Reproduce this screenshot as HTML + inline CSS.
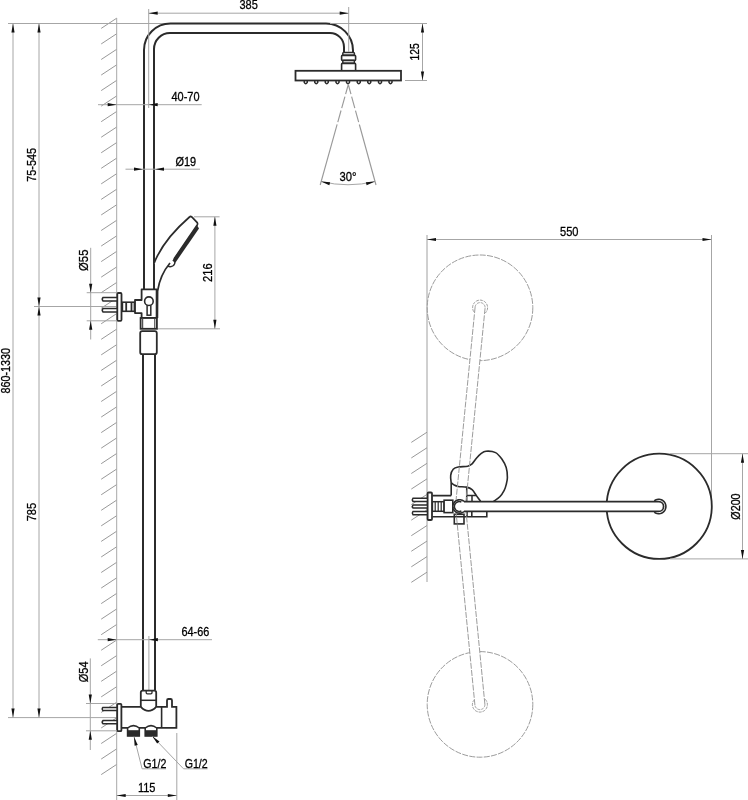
<!DOCTYPE html>
<html><head><meta charset="utf-8"><style>
html,body{margin:0;padding:0;background:#fff;}
svg{display:block;will-change:transform;}
text{font-family:"Liberation Sans",sans-serif;fill:#000;stroke:#000;stroke-width:0.3px;}
</style></head><body>
<svg width="748" height="800" viewBox="0 0 748 800">
<rect width="748" height="800" fill="#fff"/>
<line x1="101.2" y1="28.4" x2="116.7" y2="18.2" stroke="#999" stroke-width="1"/>
<line x1="101.2" y1="43.946" x2="116.7" y2="33.745999999999995" stroke="#999" stroke-width="1"/>
<line x1="101.2" y1="59.492000000000004" x2="116.7" y2="49.292" stroke="#999" stroke-width="1"/>
<line x1="101.2" y1="75.038" x2="116.7" y2="64.838" stroke="#999" stroke-width="1"/>
<line x1="101.2" y1="90.584" x2="116.7" y2="80.384" stroke="#999" stroke-width="1"/>
<line x1="101.2" y1="106.13" x2="116.7" y2="95.92999999999999" stroke="#999" stroke-width="1"/>
<line x1="101.2" y1="121.676" x2="116.7" y2="111.476" stroke="#999" stroke-width="1"/>
<line x1="101.2" y1="137.222" x2="116.7" y2="127.022" stroke="#999" stroke-width="1"/>
<line x1="101.2" y1="152.76799999999997" x2="116.7" y2="142.56799999999998" stroke="#999" stroke-width="1"/>
<line x1="101.2" y1="168.31399999999996" x2="116.7" y2="158.11399999999998" stroke="#999" stroke-width="1"/>
<line x1="101.2" y1="183.85999999999996" x2="116.7" y2="173.65999999999997" stroke="#999" stroke-width="1"/>
<line x1="101.2" y1="199.40599999999998" x2="116.7" y2="189.206" stroke="#999" stroke-width="1"/>
<line x1="101.2" y1="214.95199999999997" x2="116.7" y2="204.75199999999998" stroke="#999" stroke-width="1"/>
<line x1="101.2" y1="230.49799999999996" x2="116.7" y2="220.29799999999997" stroke="#999" stroke-width="1"/>
<line x1="101.2" y1="246.04399999999998" x2="116.7" y2="235.844" stroke="#999" stroke-width="1"/>
<line x1="101.2" y1="261.59" x2="116.7" y2="251.39" stroke="#999" stroke-width="1"/>
<line x1="101.2" y1="277.13599999999997" x2="116.7" y2="266.936" stroke="#999" stroke-width="1"/>
<line x1="101.2" y1="292.68199999999996" x2="116.7" y2="282.48199999999997" stroke="#999" stroke-width="1"/>
<line x1="101.2" y1="308.22799999999995" x2="116.7" y2="298.02799999999996" stroke="#999" stroke-width="1"/>
<line x1="101.2" y1="323.77399999999994" x2="116.7" y2="313.57399999999996" stroke="#999" stroke-width="1"/>
<line x1="101.2" y1="339.31999999999994" x2="116.7" y2="329.11999999999995" stroke="#999" stroke-width="1"/>
<line x1="101.2" y1="354.866" x2="116.7" y2="344.666" stroke="#999" stroke-width="1"/>
<line x1="101.2" y1="370.412" x2="116.7" y2="360.212" stroke="#999" stroke-width="1"/>
<line x1="101.2" y1="385.95799999999997" x2="116.7" y2="375.758" stroke="#999" stroke-width="1"/>
<line x1="101.2" y1="401.50399999999996" x2="116.7" y2="391.304" stroke="#999" stroke-width="1"/>
<line x1="101.2" y1="417.04999999999995" x2="116.7" y2="406.84999999999997" stroke="#999" stroke-width="1"/>
<line x1="101.2" y1="432.59599999999995" x2="116.7" y2="422.39599999999996" stroke="#999" stroke-width="1"/>
<line x1="101.2" y1="448.14199999999994" x2="116.7" y2="437.94199999999995" stroke="#999" stroke-width="1"/>
<line x1="101.2" y1="463.688" x2="116.7" y2="453.488" stroke="#999" stroke-width="1"/>
<line x1="101.2" y1="479.234" x2="116.7" y2="469.034" stroke="#999" stroke-width="1"/>
<line x1="101.2" y1="494.78" x2="116.7" y2="484.58" stroke="#999" stroke-width="1"/>
<line x1="101.2" y1="510.32599999999996" x2="116.7" y2="500.126" stroke="#999" stroke-width="1"/>
<line x1="101.2" y1="525.8720000000001" x2="116.7" y2="515.672" stroke="#999" stroke-width="1"/>
<line x1="101.2" y1="541.4180000000001" x2="116.7" y2="531.2180000000001" stroke="#999" stroke-width="1"/>
<line x1="101.2" y1="556.964" x2="116.7" y2="546.764" stroke="#999" stroke-width="1"/>
<line x1="101.2" y1="572.5100000000001" x2="116.7" y2="562.3100000000001" stroke="#999" stroke-width="1"/>
<line x1="101.2" y1="588.056" x2="116.7" y2="577.856" stroke="#999" stroke-width="1"/>
<line x1="101.2" y1="603.6020000000001" x2="116.7" y2="593.402" stroke="#999" stroke-width="1"/>
<line x1="101.2" y1="619.148" x2="116.7" y2="608.948" stroke="#999" stroke-width="1"/>
<line x1="101.2" y1="634.6940000000001" x2="116.7" y2="624.494" stroke="#999" stroke-width="1"/>
<line x1="101.2" y1="650.24" x2="116.7" y2="640.04" stroke="#999" stroke-width="1"/>
<line x1="101.2" y1="665.7860000000001" x2="116.7" y2="655.586" stroke="#999" stroke-width="1"/>
<line x1="101.2" y1="681.3320000000001" x2="116.7" y2="671.1320000000001" stroke="#999" stroke-width="1"/>
<line x1="101.2" y1="696.878" x2="116.7" y2="686.678" stroke="#999" stroke-width="1"/>
<line x1="101.2" y1="712.4240000000001" x2="116.7" y2="702.224" stroke="#999" stroke-width="1"/>
<line x1="101.2" y1="727.97" x2="116.7" y2="717.77" stroke="#999" stroke-width="1"/>
<line x1="101.2" y1="743.5160000000001" x2="116.7" y2="733.316" stroke="#999" stroke-width="1"/>
<line x1="101.2" y1="759.062" x2="116.7" y2="748.862" stroke="#999" stroke-width="1"/>
<line x1="101.2" y1="774.6080000000001" x2="116.7" y2="764.408" stroke="#999" stroke-width="1"/>
<line x1="116.7" y1="18" x2="116.7" y2="800" stroke="#a8a8a8" stroke-width="1"/>
<line x1="8" y1="23.5" x2="165" y2="23.5" stroke="#a6a6a6" stroke-width="1"/>
<line x1="8" y1="717.6" x2="117" y2="717.6" stroke="#a6a6a6" stroke-width="1"/>
<line x1="13" y1="23.5" x2="13" y2="717.6" stroke="#a6a6a6" stroke-width="1"/>
<line x1="39" y1="23.5" x2="39" y2="717.6" stroke="#a6a6a6" stroke-width="1"/>
<line x1="34" y1="306.5" x2="117" y2="306.5" stroke="#a6a6a6" stroke-width="1"/>
<path d="M13.00,23.50 L14.60,32.50 L11.40,32.50 Z" fill="#111"/>
<path d="M13.00,717.60 L11.40,708.60 L14.60,708.60 Z" fill="#111"/>
<path d="M39.00,23.50 L40.60,32.50 L37.40,32.50 Z" fill="#111"/>
<path d="M39.00,306.50 L37.40,297.50 L40.60,297.50 Z" fill="#111"/>
<path d="M39.00,306.50 L40.60,315.50 L37.40,315.50 Z" fill="#111"/>
<path d="M39.00,717.60 L37.40,708.60 L40.60,708.60 Z" fill="#111"/>
<text transform="translate(10.00,393.50) rotate(-90)" x="0" y="0" font-size="13" textLength="45.50" lengthAdjust="spacingAndGlyphs">860-1330</text>
<text transform="translate(36.00,181.70) rotate(-90)" x="0" y="0" font-size="13" textLength="33.80" lengthAdjust="spacingAndGlyphs">75-545</text>
<text transform="translate(36.00,521.30) rotate(-90)" x="0" y="0" font-size="13" textLength="18.50" lengthAdjust="spacingAndGlyphs">785</text>
<path d="M144,289 L144,50 A26.5,26.5 0 0 1 170.5,23.5 L326,23.5 A27,27 0 0 1 353,50.5 L353,52.5" fill="none" stroke="#2b2b2b" stroke-width="2"/>
<path d="M154,289 L154,49 A16,16 0 0 1 170,33 L330,33 A14,14 0 0 1 344,47 L344,52.5" fill="none" stroke="#2b2b2b" stroke-width="2"/>
<path d="M143,354 L143,690 M155,354 L155,690" fill="none" stroke="#2b2b2b" stroke-width="2"/>
<rect x="342.8" y="52.6" width="11.6" height="2.6" rx="0.8" fill="#fff" stroke="#2b2b2b" stroke-width="1.5"/>
<rect x="341.6" y="55.4" width="14" height="5" rx="0.8" fill="#fff" stroke="#2b2b2b" stroke-width="1.6"/>
<rect x="342.8" y="60.6" width="11.6" height="2.6" rx="0.8" fill="#fff" stroke="#2b2b2b" stroke-width="1.5"/>
<rect x="341.6" y="63.4" width="14" height="7.6" rx="0.8" fill="#fff" stroke="#2b2b2b" stroke-width="1.6"/>
<rect x="295.5" y="70.8" width="105.5" height="9.7" fill="#fff" stroke="#2b2b2b" stroke-width="1.8"/>
<path d="M304.25,80.5 L304.25,82.3 Q305.75,85 307.25,82.3 L307.25,80.5" fill="none" stroke="#2b2b2b" stroke-width="1.5"/>
<path d="M314.75,80.5 L314.75,82.3 Q316.25,85 317.75,82.3 L317.75,80.5" fill="none" stroke="#2b2b2b" stroke-width="1.5"/>
<path d="M325.25,80.5 L325.25,82.3 Q326.75,85 328.25,82.3 L328.25,80.5" fill="none" stroke="#2b2b2b" stroke-width="1.5"/>
<path d="M336.00,80.5 L336.00,82.3 Q337.50,85 339.00,82.3 L339.00,80.5" fill="none" stroke="#2b2b2b" stroke-width="1.5"/>
<path d="M346.50,80.5 L346.50,82.3 Q348.00,85 349.50,82.3 L349.50,80.5" fill="none" stroke="#2b2b2b" stroke-width="1.5"/>
<path d="M357.25,80.5 L357.25,82.3 Q358.75,85 360.25,82.3 L360.25,80.5" fill="none" stroke="#2b2b2b" stroke-width="1.5"/>
<path d="M367.75,80.5 L367.75,82.3 Q369.25,85 370.75,82.3 L370.75,80.5" fill="none" stroke="#2b2b2b" stroke-width="1.5"/>
<path d="M378.50,80.5 L378.50,82.3 Q380.00,85 381.50,82.3 L381.50,80.5" fill="none" stroke="#2b2b2b" stroke-width="1.5"/>
<path d="M389.00,80.5 L389.00,82.3 Q390.50,85 392.00,82.3 L392.00,80.5" fill="none" stroke="#2b2b2b" stroke-width="1.5"/>
<line x1="148.7" y1="9" x2="148.7" y2="108" stroke="#a6a6a6" stroke-width="1"/>
<line x1="148.7" y1="13.2" x2="348.7" y2="13.2" stroke="#a6a6a6" stroke-width="1"/>
<line x1="348.7" y1="7" x2="348.7" y2="52" stroke="#a6a6a6" stroke-width="1"/>
<path d="M148.70,13.20 L157.70,11.60 L157.70,14.80 Z" fill="#111"/>
<path d="M348.70,13.20 L339.70,14.80 L339.70,11.60 Z" fill="#111"/>
<text x="239.40" y="9.40" font-size="13" textLength="18.40" lengthAdjust="spacingAndGlyphs">385</text>
<line x1="330" y1="23.5" x2="427" y2="23.5" stroke="#a6a6a6" stroke-width="1"/>
<line x1="405" y1="80.5" x2="427" y2="80.5" stroke="#a6a6a6" stroke-width="1"/>
<line x1="422.5" y1="23.5" x2="422.5" y2="80.5" stroke="#a6a6a6" stroke-width="1"/>
<path d="M422.50,23.50 L424.10,32.50 L420.90,32.50 Z" fill="#111"/>
<path d="M422.50,80.50 L420.90,71.50 L424.10,71.50 Z" fill="#111"/>
<text transform="translate(418.70,60.50) rotate(-90)" x="0" y="0" font-size="13" textLength="17.20" lengthAdjust="spacingAndGlyphs">125</text>
<path d="M348.3,84.5 L320.2,185 M348.3,84.5 L376,185" stroke="#9a9a9a" stroke-width="1.15" stroke-dasharray="10,2.5,12,2.5,12,2.5,200"/>
<path d="M321,181.5 Q348,188 375,181.5" fill="none" stroke="#a6a6a6" stroke-width="1"/>
<path d="M321.00,181.50 L330.12,182.13 L329.34,185.24 Z" fill="#111"/>
<path d="M375.00,181.50 L366.66,185.24 L365.88,182.13 Z" fill="#111"/>
<text x="339.50" y="181.00" font-size="13" textLength="17.00" lengthAdjust="spacingAndGlyphs">30°</text>
<line x1="98" y1="104.7" x2="201.7" y2="104.7" stroke="#a6a6a6" stroke-width="1"/>
<path d="M116.70,104.70 L107.70,106.30 L107.70,103.10 Z" fill="#111"/>
<path d="M148.70,104.70 L157.70,103.10 L157.70,106.30 Z" fill="#111"/>
<text x="171.50" y="100.60" font-size="13" textLength="28.00" lengthAdjust="spacingAndGlyphs">40-70</text>
<line x1="125.5" y1="169.2" x2="200" y2="169.2" stroke="#a6a6a6" stroke-width="1"/>
<path d="M143.00,169.20 L134.00,170.80 L134.00,167.60 Z" fill="#111"/>
<path d="M155.00,169.20 L164.00,167.60 L164.00,170.80 Z" fill="#111"/>
<text x="175.50" y="165.50" font-size="13" textLength="20.70" lengthAdjust="spacingAndGlyphs">Ø19</text>
<path d="M154,263.5 Q163,240 189.5,217 Q190.5,216 191.8,217 L197,222.3 Q198,223.6 197.2,225 L174,259" fill="#fff" stroke="#2b2b2b" stroke-width="1.7"/>
<path d="M197.2,225.5 L199,228.5 L175.5,262.5 L172.5,260.5 Z" fill="#2b2b2b"/>
<path d="M173,260 Q176.5,262 173.5,265.5 Q170.5,267.5 167.8,266" fill="none" stroke="#2b2b2b" stroke-width="1.5"/>
<path d="M170,263 Q160,275 157.6,291 L157.4,318" fill="none" stroke="#2b2b2b" stroke-width="1.7"/>
<line x1="194" y1="216.8" x2="219.6" y2="216.8" stroke="#a6a6a6" stroke-width="1"/>
<line x1="157" y1="328.8" x2="220" y2="328.8" stroke="#a6a6a6" stroke-width="1"/>
<line x1="214.9" y1="216.8" x2="214.9" y2="328.8" stroke="#a6a6a6" stroke-width="1"/>
<path d="M214.90,216.80 L216.50,225.80 L213.30,225.80 Z" fill="#111"/>
<path d="M214.90,328.80 L213.30,319.80 L216.50,319.80 Z" fill="#111"/>
<text transform="translate(211.80,282.00) rotate(-90)" x="0" y="0" font-size="13" textLength="18.70" lengthAdjust="spacingAndGlyphs">216</text>
<path d="M141.6,289.4 L156.6,289.4 L156.6,318 L141.6,318 L141.6,313.1 L135,313.1 L135,300 L141.6,300 Z" fill="#fff" stroke="#2b2b2b" stroke-width="1.8" stroke-linejoin="round"/>
<rect x="147.1" y="303" width="3.7" height="12.2" fill="#fff" stroke="#2b2b2b" stroke-width="1.5"/>
<circle cx="148.9" cy="301.2" r="4.3" fill="#fff" stroke="#2b2b2b" stroke-width="1.6"/>
<rect x="140.6" y="318" width="16.3" height="10.8" fill="#fff" stroke="#2b2b2b" stroke-width="1.8"/>
<path d="M142.7,319 L142.7,328 M154.8,319 L154.8,328" stroke="#2b2b2b" stroke-width="1"/>
<rect x="140.2" y="331.2" width="16.6" height="23" rx="2" fill="#fff" stroke="#2b2b2b" stroke-width="1.8"/>
<rect x="122.4" y="302.2" width="12" height="9.1" fill="#fff" stroke="#2b2b2b" stroke-width="1.6"/>
<path d="M126.2,302.2 L126.2,311.3 M131.5,302.2 L131.5,311.3" stroke="#2b2b2b" stroke-width="1.8"/>
<path d="M117,297.50 L103,297.50 Q101.5,299.20 103,300.90 L117,300.90" fill="#fff" stroke="#2b2b2b" stroke-width="1.5"/>
<path d="M117,308.60 L103,308.60 Q101.5,310.30 103,312.00 L117,312.00" fill="#fff" stroke="#2b2b2b" stroke-width="1.5"/>
<rect x="117.3" y="293" width="4.2" height="27.8" rx="1" fill="#fff" stroke="#2b2b2b" stroke-width="1.8"/>
<line x1="86.7" y1="292.7" x2="117" y2="292.7" stroke="#a6a6a6" stroke-width="1"/>
<line x1="86.7" y1="320.8" x2="117" y2="320.8" stroke="#a6a6a6" stroke-width="1"/>
<line x1="90.7" y1="247.8" x2="90.7" y2="339.5" stroke="#a6a6a6" stroke-width="1"/>
<path d="M90.70,292.70 L89.10,283.70 L92.30,283.70 Z" fill="#111"/>
<path d="M90.70,320.80 L92.30,329.80 L89.10,329.80 Z" fill="#111"/>
<text transform="translate(87.60,270.90) rotate(-90)" x="0" y="0" font-size="13" textLength="21.30" lengthAdjust="spacingAndGlyphs">Ø55</text>
<line x1="148.9" y1="636" x2="148.9" y2="695" stroke="#a6a6a6" stroke-width="1"/>
<line x1="97.8" y1="639.7" x2="212" y2="639.7" stroke="#a6a6a6" stroke-width="1"/>
<path d="M116.70,639.70 L107.70,641.30 L107.70,638.10 Z" fill="#111"/>
<path d="M148.90,639.70 L157.90,638.10 L157.90,641.30 Z" fill="#111"/>
<text x="181.50" y="636.00" font-size="13" textLength="27.80" lengthAdjust="spacingAndGlyphs">64-66</text>
<path d="M140.8,707 L140.8,692.5 Q140.8,690.6 142.8,690.6 L154.2,690.6 Q156.2,690.6 156.2,692.5 L156.2,707" fill="#fff" stroke="#2b2b2b" stroke-width="1.8"/>
<path d="M146.2,690.8 L146.2,692.8 Q146.2,693.8 147.4,693.8 L150.8,693.8 Q152,693.8 152,692.8 L152,690.8" fill="none" stroke="#2b2b2b" stroke-width="1.3"/>
<path d="M140.8,700.3 L156.2,700.3" stroke="#2b2b2b" stroke-width="1.5"/>
<path d="M121.3,706.9 L140.8,706.9 M156.2,706.9 L167,706.9 L167,700.5 Q167,699 168.5,699 L170.5,699 Q172,699 172,700.5 L172,706.9 L176.4,706.9 L176.4,727.9 L121.3,727.9" fill="#fff" stroke="#2b2b2b" stroke-width="1.8"/>
<path d="M140.8,706.9 Q148.5,715 156.2,706.9" fill="#fff" stroke="#2b2b2b" stroke-width="1.8"/>
<path d="M161.6,706.9 L161.6,727.9" stroke="#2b2b2b" stroke-width="1.6"/>
<path d="M127.6,736 L127.6,728 Q133.45,723.2 139.3,728 L139.3,736 Z" fill="#fff" stroke="#2b2b2b" stroke-width="1.6"/>
<rect x="127.6" y="730.2" width="11.7" height="6" fill="#2b2b2b"/>
<path d="M145.2,736 L145.2,728 Q151.0,723.2 156.8,728 L156.8,736 Z" fill="#fff" stroke="#2b2b2b" stroke-width="1.6"/>
<rect x="145.2" y="730.2" width="11.6" height="6" fill="#2b2b2b"/>
<path d="M117,707.40 L103,707.40 Q101.4,709.00 103,710.60 L117,710.60" fill="#fff" stroke="#2b2b2b" stroke-width="1.5"/>
<path d="M117,720.60 L103,720.60 Q101.4,722.20 103,723.80 L117,723.80" fill="#fff" stroke="#2b2b2b" stroke-width="1.5"/>
<rect x="117.2" y="703.8" width="4.2" height="27.4" rx="1" fill="#fff" stroke="#2b2b2b" stroke-width="1.8"/>
<line x1="86" y1="703.5" x2="117" y2="703.5" stroke="#a6a6a6" stroke-width="1"/>
<line x1="86" y1="730.8" x2="117" y2="730.8" stroke="#a6a6a6" stroke-width="1"/>
<line x1="90.3" y1="658.4" x2="90.3" y2="750" stroke="#a6a6a6" stroke-width="1"/>
<path d="M90.30,703.50 L88.70,694.50 L91.90,694.50 Z" fill="#111"/>
<path d="M90.30,730.80 L91.90,739.80 L88.70,739.80 Z" fill="#111"/>
<text transform="translate(88.40,682.30) rotate(-90)" x="0" y="0" font-size="13" textLength="20.80" lengthAdjust="spacingAndGlyphs">Ø54</text>
<path d="M134,736.7 L142.1,768.8 L166.1,768.8" fill="none" stroke="#a6a6a6" stroke-width="1"/>
<path d="M134.00,736.70 L137.74,745.04 L134.63,745.82 Z" fill="#111"/>
<text x="143.30" y="768.10" font-size="13" textLength="23.10" lengthAdjust="spacingAndGlyphs">G1/2</text>
<path d="M152.1,736 L183.5,768.8 L207.6,768.8" fill="none" stroke="#a6a6a6" stroke-width="1"/>
<path d="M152.10,736.00 L159.48,741.39 L157.17,743.60 Z" fill="#111"/>
<text x="184.70" y="768.10" font-size="13" textLength="23.00" lengthAdjust="spacingAndGlyphs">G1/2</text>
<line x1="176.8" y1="733" x2="176.8" y2="800" stroke="#a6a6a6" stroke-width="1"/>
<line x1="116.7" y1="795.5" x2="176.8" y2="795.5" stroke="#a6a6a6" stroke-width="1"/>
<path d="M116.70,795.50 L125.70,793.90 L125.70,797.10 Z" fill="#111"/>
<path d="M176.80,795.50 L167.80,797.10 L167.80,793.90 Z" fill="#111"/>
<text x="137.90" y="791.50" font-size="13" textLength="17.60" lengthAdjust="spacingAndGlyphs">115</text>
<line x1="427" y1="235" x2="427" y2="582" stroke="#a0a0a0" stroke-width="1"/>
<line x1="711.5" y1="235" x2="711.5" y2="506" stroke="#a6a6a6" stroke-width="1"/>
<line x1="427" y1="239.5" x2="711.5" y2="239.5" stroke="#a6a6a6" stroke-width="1"/>
<path d="M427.00,239.50 L436.00,237.90 L436.00,241.10 Z" fill="#111"/>
<path d="M711.50,239.50 L702.50,241.10 L702.50,237.90 Z" fill="#111"/>
<text x="560.00" y="236.20" font-size="13" textLength="18.50" lengthAdjust="spacingAndGlyphs">550</text>
<line x1="411.3" y1="442.4" x2="427" y2="432.2" stroke="#999" stroke-width="1"/>
<line x1="411.3" y1="457.95" x2="427" y2="447.75" stroke="#999" stroke-width="1"/>
<line x1="411.3" y1="473.5" x2="427" y2="463.3" stroke="#999" stroke-width="1"/>
<line x1="411.3" y1="489.05" x2="427" y2="478.85" stroke="#999" stroke-width="1"/>
<line x1="411.3" y1="504.59999999999997" x2="427" y2="494.4" stroke="#999" stroke-width="1"/>
<line x1="411.3" y1="520.15" x2="427" y2="509.95" stroke="#999" stroke-width="1"/>
<line x1="411.3" y1="535.7" x2="427" y2="525.5" stroke="#999" stroke-width="1"/>
<line x1="411.3" y1="551.25" x2="427" y2="541.05" stroke="#999" stroke-width="1"/>
<line x1="411.3" y1="566.8000000000001" x2="427" y2="556.6" stroke="#999" stroke-width="1"/>
<line x1="411.3" y1="582.35" x2="427" y2="572.15" stroke="#999" stroke-width="1"/>
<circle cx="480" cy="307.8" r="52.8" fill="none" stroke="#9c9c9c" stroke-width="1" stroke-dasharray="6,1.3"/>
<circle cx="480" cy="704.4" r="52.8" fill="none" stroke="#9c9c9c" stroke-width="1" stroke-dasharray="6,1.3"/>
<path d="M475.12,307.11 L455.52,505.51 L465.48,506.49 L485.08,308.09 A5,5 0 0 1 475.12,307.11 Z" fill="#fff"/>
<path d="M484.88,704.11 L465.48,505.51 L455.52,506.49 L474.92,705.09 A5,5 0 0 1 484.88,704.11 Z" fill="#fff"/>
<path d="M451.2,495.6 L451.2,482.8  C451.12,481.55 450.37,477.55 450.70,475.30 C451.03,473.05 451.95,470.68 453.20,469.30 C454.45,467.92 455.77,467.52 458.20,467.00 C460.63,466.48 465.48,466.73 467.80,466.20 C470.12,465.67 470.67,465.13 472.10,463.80 C473.53,462.47 474.92,459.90 476.40,458.20 C477.88,456.50 479.40,454.77 481.00,453.60 C482.60,452.43 483.57,451.37 486.00,451.20 C488.43,451.03 492.93,451.25 495.60,452.60 C498.27,453.95 500.23,456.80 502.00,459.30 C503.77,461.80 505.30,464.58 506.20,467.60 C507.10,470.62 507.40,474.57 507.40,477.40 C507.40,480.23 506.73,482.45 506.20,484.60 C505.67,486.75 505.27,488.27 504.20,490.30 C503.13,492.33 501.58,494.93 499.80,496.80 C498.02,498.67 494.55,500.72 493.50,501.50" fill="none" stroke="#2b2b2b" stroke-width="1.6"/>
<path d="M451.20,482.80 C451.65,483.15 452.73,484.28 453.90,484.90 C455.07,485.52 456.07,486.13 458.20,486.50 C460.33,486.87 464.38,486.57 466.70,487.10 C469.02,487.63 470.48,488.28 472.10,489.70 C473.72,491.12 474.98,493.67 476.40,495.60 C477.82,497.53 479.90,500.35 480.60,501.30" fill="none" stroke="#2b2b2b" stroke-width="1.6"/>
<path d="M466.7,487.1 L466.7,501.7 M472,495.6 L472,501.7 M466.7,495.6 L476.4,495.6" fill="none" stroke="#2b2b2b" stroke-width="1.5"/>
<path d="M432.4,495.6 L451.2,495.6 M432.4,516.7 L486.8,516.7 L486.8,511.3 M467,511.3 L467,516.7 M471.8,511.3 L471.8,516.7" fill="none" stroke="#2b2b2b" stroke-width="1.6"/>
<rect x="432.4" y="501.7" width="11.7" height="9.6" fill="#fff" stroke="#2b2b2b" stroke-width="1.5"/>
<path d="M435.2,501.7 L435.2,511.3 M438.2,501.7 L438.2,511.3 M441.2,501.7 L441.2,511.3" stroke="#2b2b2b" stroke-width="1.2"/>
<rect x="444.1" y="500.2" width="8.7" height="12.4" fill="#fff" stroke="#2b2b2b" stroke-width="1.6"/>
<rect x="454.3" y="514.3" width="9.7" height="9.6" fill="none" stroke="#2b2b2b" stroke-width="1.6"/>
<path d="M475.12,307.11 L455.52,505.51 M485.08,308.09 L465.48,506.49" stroke="#9c9c9c" stroke-width="1" stroke-dasharray="6,1.3" fill="none"/>
<polyline points="475.12,307.11 475.23,306.46 475.42,305.84 475.69,305.24 476.04,304.69 476.45,304.18 476.93,303.73 477.46,303.35 478.04,303.05 478.65,302.81 479.29,302.67 479.94,302.60 480.59,302.62 481.24,302.73 481.86,302.92 482.46,303.19 483.01,303.54 483.52,303.95 483.97,304.43 484.35,304.96 484.65,305.54 484.89,306.15 485.03,306.79 485.10,307.44 485.08,308.09" stroke="#9c9c9c" stroke-width="1" fill="none" stroke-dasharray="3,1"/>
<polyline points="473.91,311.83 473.22,310.59 472.78,309.25 472.60,307.84 472.69,306.43 473.04,305.06 473.65,303.78 474.48,302.63 475.51,301.67 476.71,300.91 478.03,300.39 479.42,300.13 480.84,300.14 482.23,300.41 483.54,300.94 484.73,301.70 485.76,302.68 486.58,303.83 487.18,305.11 487.52,306.49 487.59,307.90 487.40,309.31 486.95,310.65 486.26,311.88 485.34,312.96" stroke="#9c9c9c" stroke-width="1" fill="none" stroke-dasharray="3,1"/>
<path d="M484.88,704.11 L465.48,505.51 M474.92,705.09 L455.52,506.49" stroke="#9c9c9c" stroke-width="1" stroke-dasharray="6,1.3" fill="none"/>
<polyline points="484.88,704.11 484.90,704.77 484.83,705.42 484.68,706.06 484.45,706.67 484.14,707.24 483.76,707.78 483.32,708.25 482.81,708.67 482.25,709.01 481.66,709.28 481.03,709.47 480.39,709.58 479.73,709.60 479.08,709.53 478.44,709.38 477.83,709.15 477.26,708.84 476.72,708.46 476.25,708.02 475.83,707.51 475.49,706.95 475.22,706.36 475.03,705.73 474.92,705.09" stroke="#9c9c9c" stroke-width="1" fill="none" stroke-dasharray="3,1"/>
<polyline points="485.15,699.24 486.06,700.33 486.76,701.56 487.21,702.90 487.39,704.31 487.32,705.72 486.97,707.09 486.38,708.38 485.55,709.53 484.53,710.50 483.33,711.27 482.02,711.79 480.63,712.06 479.21,712.07 477.82,711.81 476.50,711.29 475.31,710.53 474.28,709.56 473.44,708.42 472.84,707.13 472.49,705.76 472.40,704.35 472.59,702.94 473.03,701.60 473.71,700.36" stroke="#9c9c9c" stroke-width="1" fill="none" stroke-dasharray="3,1"/>
<circle cx="659.2" cy="506.3" r="52.6" fill="#fff" stroke="#2b2b2b" stroke-width="1.8"/>
<path d="M458.5,501.6 L658.7,501.6 A4.9,4.9 0 0 1 658.7,511.4 L458.5,511.4" fill="#fff" stroke="#2b2b2b" stroke-width="1.7"/>
<polyline points="654.27,500.83 655.16,500.23 656.13,499.78 657.15,499.47 658.21,499.32 659.29,499.32 660.34,499.49 661.37,499.81 662.33,500.28 663.21,500.89 663.99,501.62 664.66,502.46 665.19,503.39 665.58,504.39 665.82,505.43 665.90,506.50 665.82,507.57 665.58,508.61 665.19,509.61 664.66,510.54 663.99,511.38 663.21,512.11 662.33,512.72 661.37,513.19 660.34,513.51 659.29,513.68 658.21,513.68 657.15,513.53 656.13,513.22 655.16,512.77 654.27,512.17" fill="none" stroke="#2b2b2b" stroke-width="1.6"/>
<polygon points="463.91,511.58 463.08,512.17 462.18,512.63 461.22,512.95 460.22,513.12 459.21,513.14 458.21,513.00 457.24,512.72 456.32,512.29 455.48,511.73 454.73,511.05 454.09,510.26 453.58,509.39 453.20,508.45 452.98,507.46 452.90,506.45 452.98,505.44 453.20,504.45 453.58,503.51 454.09,502.64 454.73,501.85 455.48,501.17 456.32,500.61 457.24,500.18 458.21,499.90 459.21,499.76 460.22,499.78 461.22,499.95 462.18,500.27 463.08,500.73 463.91,501.32" fill="#fff" stroke="none"/>
<polyline points="463.91,511.58 463.08,512.17 462.18,512.63 461.22,512.95 460.22,513.12 459.21,513.14 458.21,513.00 457.24,512.72 456.32,512.29 455.48,511.73 454.73,511.05 454.09,510.26 453.58,509.39 453.20,508.45 452.98,507.46 452.90,506.45 452.98,505.44 453.20,504.45 453.58,503.51 454.09,502.64 454.73,501.85 455.48,501.17 456.32,500.61 457.24,500.18 458.21,499.90 459.21,499.76 460.22,499.78 461.22,499.95 462.18,500.27 463.08,500.73 463.91,501.32" fill="none" stroke="#2b2b2b" stroke-width="1.6"/>
<polyline points="461.37,510.94 460.76,511.18 460.12,511.33 459.47,511.40 458.82,511.38 458.17,511.27 457.54,511.07 456.95,510.80 456.40,510.45 455.90,510.02 455.46,509.54 455.09,509.00 454.79,508.41 454.57,507.80 454.44,507.15 454.40,506.50 454.44,505.85 454.57,505.20 454.79,504.59 455.09,504.00 455.46,503.46 455.90,502.98 456.40,502.55 456.95,502.20 457.54,501.93 458.17,501.73 458.82,501.62 459.47,501.60 460.12,501.67 460.76,501.82 461.37,502.06" fill="none" stroke="#2b2b2b" stroke-width="1.5"/>
<path d="M427,498.25 L413,498.25 Q411.6,499.85 413,501.45 L427,501.45" fill="#fff" stroke="#2b2b2b" stroke-width="1.5"/>
<path d="M427,504.90 L413,504.90 Q411.6,506.50 413,508.10 L427,508.10" fill="#fff" stroke="#2b2b2b" stroke-width="1.5"/>
<path d="M427,511.50 L413,511.50 Q411.6,513.10 413,514.70 L427,514.70" fill="#fff" stroke="#2b2b2b" stroke-width="1.5"/>
<rect x="427.6" y="492.5" width="4.4" height="27.5" rx="1" fill="#fff" stroke="#2b2b2b" stroke-width="1.8"/>
<line x1="670" y1="453.7" x2="748" y2="453.7" stroke="#a6a6a6" stroke-width="1"/>
<line x1="670" y1="558.9" x2="748" y2="558.9" stroke="#a6a6a6" stroke-width="1"/>
<line x1="742.5" y1="453.7" x2="742.5" y2="558.9" stroke="#a6a6a6" stroke-width="1"/>
<path d="M742.50,453.70 L744.10,462.70 L740.90,462.70 Z" fill="#111"/>
<path d="M742.50,558.90 L740.90,549.90 L744.10,549.90 Z" fill="#111"/>
<text transform="translate(740.00,519.70) rotate(-90)" x="0" y="0" font-size="13" textLength="26.30" lengthAdjust="spacingAndGlyphs">Ø200</text>
</svg></body></html>
